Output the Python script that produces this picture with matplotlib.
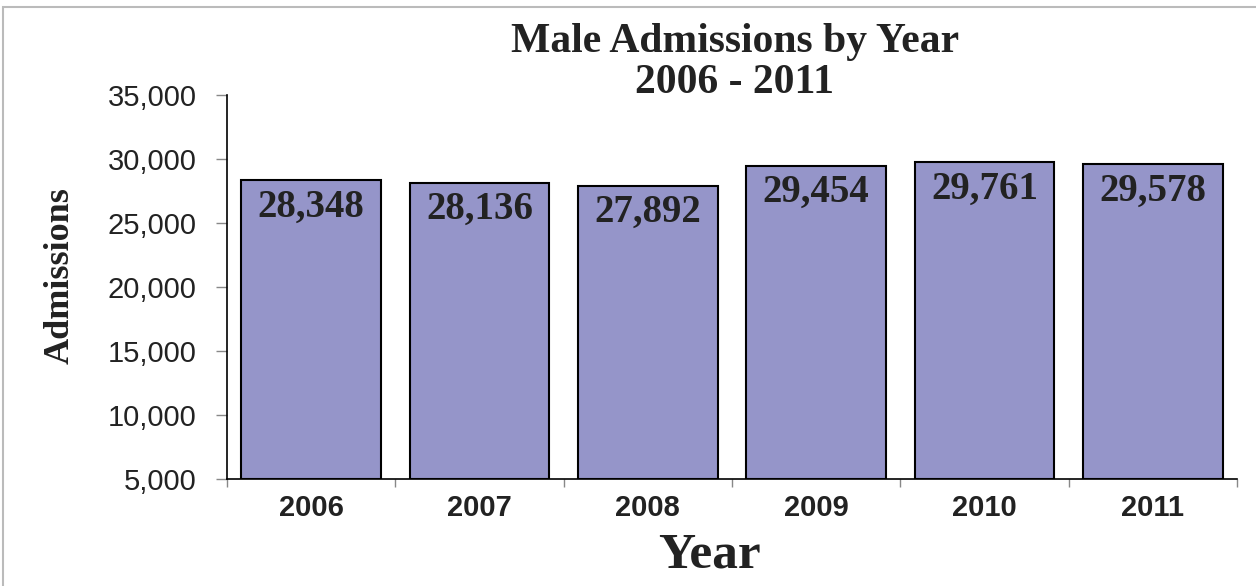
import matplotlib
matplotlib.use("Agg")
import matplotlib.pyplot as plt
from matplotlib.patches import Rectangle
from matplotlib.ticker import FuncFormatter, FixedLocator

years = ["2006", "2007", "2008", "2009", "2010", "2011"]
admissions = [28348, 28136, 27892, 29454, 29761, 29578]
y_ticks = [5000, 10000, 15000, 20000, 25000, 30000, 35000]

fig = plt.figure(figsize=(12.56, 5.86), dpi=100)
ax = fig.add_axes([227/1256, 1-479/586, (1237-227)/1256, (479-95)/586])

base = 5000
x = list(range(len(years)))
bars = ax.bar(x, [v - base for v in admissions], bottom=base, width=0.83,
              color="#9595c9", edgecolor="black", linewidth=1.5, zorder=2)

ax.set_xlim(-0.5, len(years) - 0.5)
ax.set_ylim(5000, 35000)
ax.set_yticks(y_ticks)
ax.yaxis.set_major_formatter(FuncFormatter(lambda v, p: f"{int(v):,}"))
ax.set_xticks(x)
ax.set_xticklabels(years)
ax.xaxis.set_minor_locator(FixedLocator([i - 0.5 for i in range(len(years) + 1)]))
ax.tick_params(axis="x", which="major", length=0, pad=11)
ax.tick_params(axis="x", which="minor", length=6, color="#888888", width=1)
ax.tick_params(axis="y", length=8, color="#888888", width=1, pad=14)

for lbl in ax.get_yticklabels():
    lbl.set_fontfamily("Liberation Sans")
    lbl.set_fontsize(21)
    lbl.set_color("#222222")
for lbl in ax.get_xticklabels():
    lbl.set_fontfamily("Liberation Sans")
    lbl.set_fontsize(21)
    lbl.set_fontweight("bold")
    lbl.set_color("#222222")

for s in ["top", "right"]:
    ax.spines[s].set_visible(False)
ax.spines["left"].set_linewidth(1.2)
ax.spines["bottom"].set_linewidth(1.2)

for xi, v in zip(x, admissions):
    ax.annotate(f"{v:,}", xy=(xi, v), xytext=(0, -6), textcoords="offset points",
                ha="center", va="top", fontfamily="Liberation Serif",
                fontweight="bold", fontsize=28, color="#222222", zorder=3)

fig.text(735/1256, 1-42/586, "Male Admissions by Year", ha="center", va="center",
         fontfamily="Liberation Serif", fontweight="bold", fontsize=30, color="#222222")
fig.text(735/1256, 1-83/586, "2006 - 2011", ha="center", va="center",
         fontfamily="Liberation Serif", fontweight="bold", fontsize=30, color="#222222")

fig.text(60/1256, 1-276/586, "Admissions", rotation=90, ha="center", va="center",
         fontfamily="Liberation Serif", fontweight="bold", fontsize=26, color="#222222")
fig.text(709/1256, 1-555/586, "Year", ha="center", va="center",
         fontfamily="Liberation Serif", fontweight="bold", fontsize=37, color="#222222")

fig.add_artist(Rectangle((3/1256, -0.01), 1.2, 1 - 7/586 + 0.01, transform=fig.transFigure,
                         fill=False, edgecolor="#bbbbbb", linewidth=1.5))

fig.savefig("out.png", dpi=100)
